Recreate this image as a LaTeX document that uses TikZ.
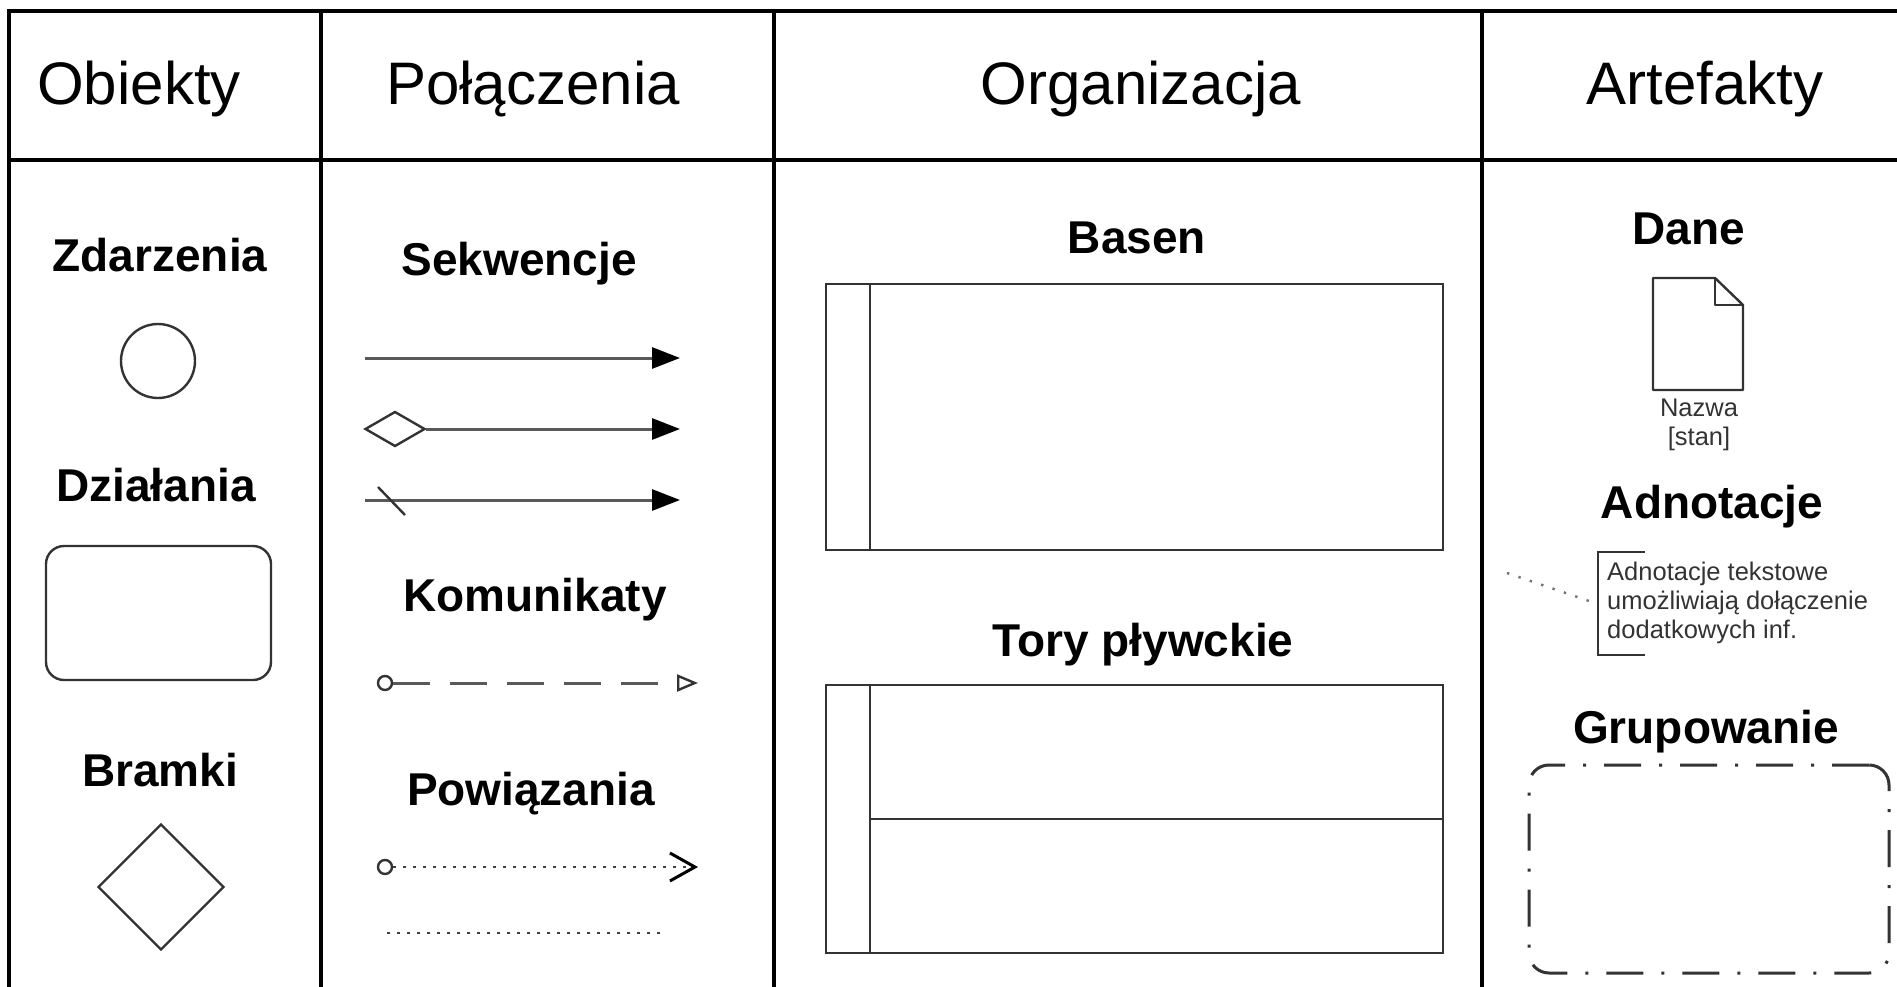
\documentclass[tikz,border=0pt]{standalone}
\usepackage{fontspec}
\setmainfont{Liberation Sans}
\usetikzlibrary{arrows.meta,shapes.geometric}
\begin{document}
\begin{tikzpicture}[x=1pt,y=-1pt,
  frame/.style={line width=3.5pt, draw=black},
  hdr/.style={font=\fontsize{60}{70}\selectfont, anchor=base, inner sep=0pt},
  sub/.style={font=\fontsize{46}{54}\selectfont\bfseries, anchor=base, inner sep=0pt},
  shp/.style={draw=black!80, line width=2.4pt},
  seqline/.style={line width=3pt, draw=black!65, -{Triangle[length=28pt,width=21pt,color=black]}},
  small/.style={font=\fontsize{25.5}{29}\selectfont, text=black!80, inner sep=0pt}]
\useasboundingbox (0,0) rectangle (1897,987);
% frame
\coordinate (tl) at (9,11); \coordinate (tr) at (1897,11);
\coordinate (bl) at (9,987);
\coordinate (hl) at (9,160); \coordinate (hr) at (1897,160);
\coordinate (d1t) at (321,11); \coordinate (d1b) at (321,987);
\coordinate (d2t) at (774,11); \coordinate (d2b) at (774,987);
\coordinate (d3t) at (1482,11); \coordinate (d3b) at (1482,987);
\draw[frame] (bl) -- (tl) -- (tr);
\draw[frame] (hl) -- (hr);
\draw[frame] (d1t) -- (d1b);
\draw[frame] (d2t) -- (d2b);
\draw[frame] (d3t) -- (d3b);
% headers
\node[hdr] (h1) at (139,105) {Obiekty};
\node[hdr] (h2) at (533,105) {Połączenia};
\node[hdr] (h3) at (1141,105) {Organizacja};
\node[hdr] (h4) at (1705,105) {Artefakty};
% column 1
\node[sub] (zd) at (160,271) {Zdarzenia};
\node[shp, circle, minimum size=74pt, inner sep=0pt] (ev) at (158,361) {};
\node[sub] (dz) at (156,501) {Działania};
\node[shp, rounded corners=18pt, minimum width=225pt, minimum height=134pt, inner sep=0pt] (act) at (158.5,613) {};
\node[sub] (br) at (160,786) {Bramki};
\node[shp, diamond, minimum width=126pt, minimum height=126pt, inner sep=0pt] (gw) at (161,887) {};
% column 2
\node[sub] (sek) at (519,275) {Sekwencje};
\coordinate (s1a) at (365,358); \coordinate (s1b) at (680,358);
\draw[seqline] (s1a) -- (s1b);
\node[shp, diamond, minimum width=60pt, minimum height=35pt, inner sep=0pt] (dflow) at (395,429) {};
\coordinate (s2b) at (680,429);
\draw[seqline] (dflow.east) -- (s2b);
\coordinate (s3a) at (365,500); \coordinate (s3b) at (680,500);
\draw[seqline] (s3a) -- (s3b);
\coordinate (sl1) at (378,487); \coordinate (sl2) at (405,515);
\draw[shp] (sl1) -- (sl2);
\node[sub] (kom) at (535,611) {Komunikaty};
\node[shp, circle, minimum size=14pt, inner sep=0pt] (m0) at (385,683) {};
\coordinate (m1) at (698,683);
\draw[line width=3pt, draw=black!65, dash pattern=on 37pt off 20pt, -{Triangle[open,length=21pt,width=17pt,line width=2.4pt,color=black!80]}] (m0.east) -- (m1);
\node[sub] (pow) at (531,805) {Powiązania};
\node[shp, circle, minimum size=14pt, inner sep=0pt] (a0) at (385,867) {};
\coordinate (a1) at (698,867);
\draw[line width=2.8pt, draw=black!75, dash pattern=on 2.8pt off 7.2pt, -{Straight Barb[length=25pt,width=28pt,line width=3pt,color=black]}] (a0.east) -- (a1);
\coordinate (p1) at (387,933); \coordinate (p2) at (665,933);
\draw[line width=2.8pt, draw=black!75, dash pattern=on 2.8pt off 7.2pt] (p1) -- (p2);
% column 3
\node[sub] (bas) at (1137,253) {Basen};
\node[shp, minimum width=617pt, minimum height=266pt, inner sep=0pt] (pool) at (1134.5,417) {};
\draw[shp] ([xshift=45pt]pool.north west) -- ([xshift=45pt]pool.south west);
\node[sub] (tor) at (1143,656) {Tory pływckie};
\node[shp, minimum width=617pt, minimum height=268pt, inner sep=0pt] (lanes) at (1134.5,819) {};
\draw[shp] ([xshift=45pt]lanes.north west) -- ([xshift=45pt]lanes.south west);
\draw[shp] ([xshift=45pt]lanes.west) -- (lanes.east);
% column 4
\node[sub] (dane) at (1689,244) {Dane};
\coordinate (dc1) at (1653,278); \coordinate (dc2) at (1715,278);
\coordinate (dc3) at (1743,305); \coordinate (dc4) at (1743,390);
\coordinate (dc5) at (1653,390); \coordinate (dc6) at (1715,305);
\draw[shp, line join=round] (dc1) -- (dc2) -- (dc3) -- (dc4) -- (dc5) -- cycle;
\draw[shp, line join=round] (dc2) -- (dc6) -- (dc3);
\node[small, align=center] (nazwa) at (1699,425) {Nazwa\\{[}stan{]}};
\node[sub] (adn) at (1712,518) {Adnotacje};
\coordinate (bk1) at (1645,552); \coordinate (bk2) at (1598,552);
\coordinate (bk3) at (1598,655); \coordinate (bk4) at (1645,655);
\draw[shp] (bk1) -- (bk2) -- (bk3) -- (bk4);
\node[small, anchor=west, align=left] (ann) at (1607,603) {Adnotacje tekstowe\\umożliwiają dołączenie\\dodatkowych inf.};
\coordinate (ad1) at (1507,573); \coordinate (ad2) at (1595,603);
\draw[line width=2.4pt, draw=black!55, dash pattern=on 2.4pt off 9.6pt] (ad1) -- (ad2);
\node[sub] (grup) at (1706,743) {Grupowanie};
\node[draw=black!80, line width=3pt, rounded corners=20pt, dash pattern=on 37pt off 18pt on 3pt off 18pt, minimum width=360pt, minimum height=208pt, inner sep=0pt] (grp) at (1709,869) {};
\end{tikzpicture}
\end{document}
